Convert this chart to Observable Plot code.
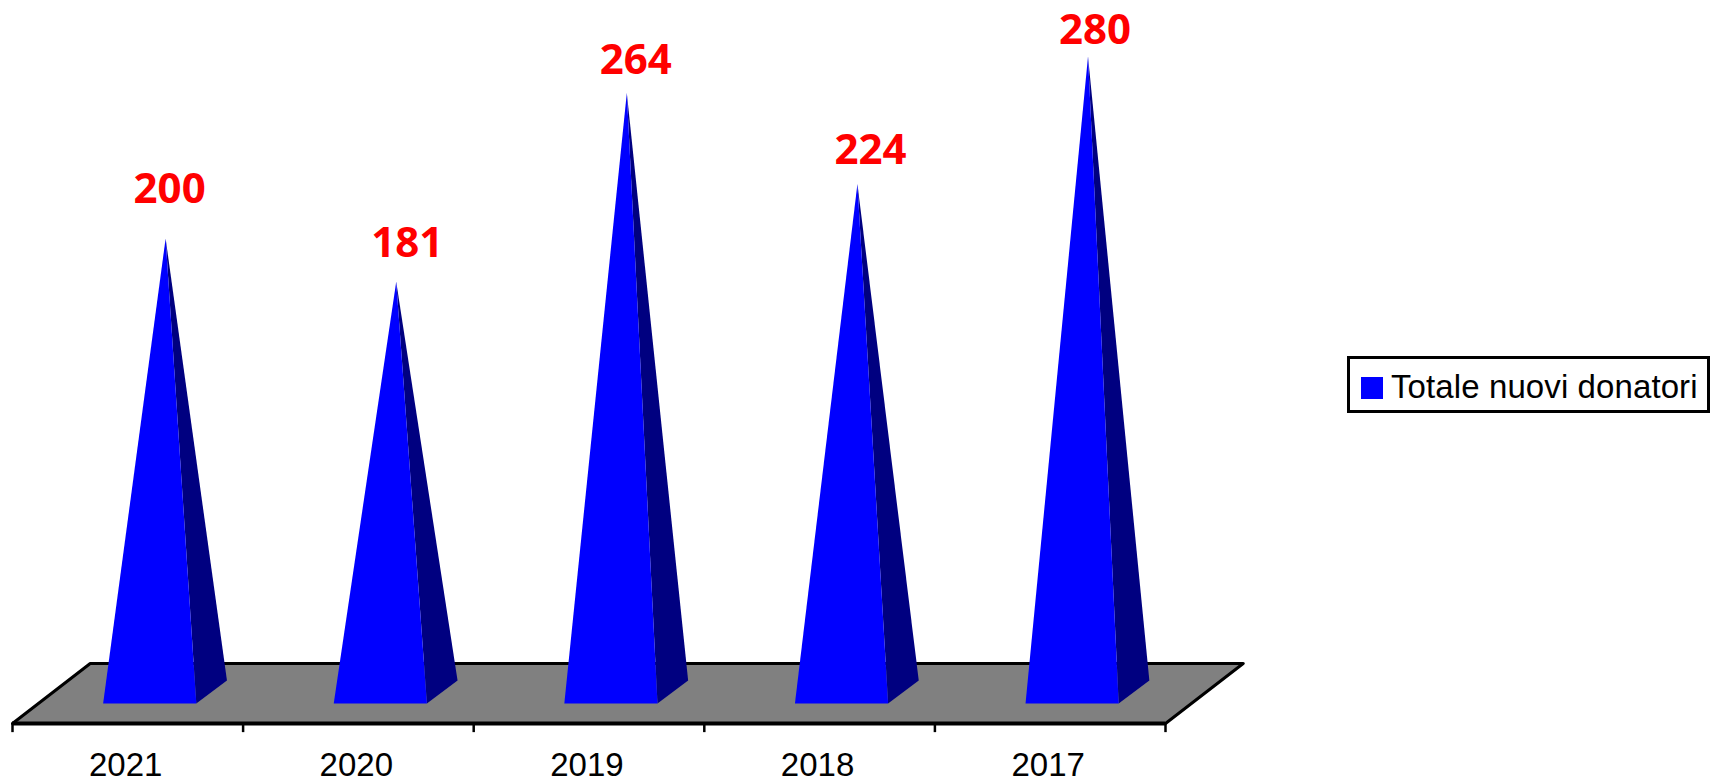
<!DOCTYPE html>
<html>
<head>
<meta charset="utf-8">
<script src="https://cdn.jsdelivr.net/npm/d3@7"></script>
<script src="https://cdn.jsdelivr.net/npm/@observablehq/plot@0.6"></script>
<style>
html,body{margin:0;padding:0;background:#fff;overflow:hidden}
#wrap{position:relative;width:1719px;height:782px}
#wrap svg{display:block;position:absolute;left:0;top:0}
#legend{position:absolute;left:1347px;top:356px;width:357px;height:51px;border:3px solid #000;background:#fff;box-sizing:content-box;
  font-family:"Liberation Sans",Arial,sans-serif;font-size:33px;color:#000;line-height:52px;white-space:nowrap}
#legend i{position:absolute;left:11px;top:18px;width:22px;height:22px;background:#0000ff}
#legend span{position:absolute;left:41px;top:2px;letter-spacing:0.1px}
</style>
</head>
<body>
<div id="wrap"><div id="legend"><i></i><span>Totale nuovi donatori</span></div></div>
<script>
const years = ["2021", "2020", "2019", "2018", "2017"];
const donors = [200, 181, 264, 224, 280];
const seriesName = "Totale nuovi donatori";
const labelDx = [4, 11, 9, 13, 7];
const labelDy = [-49, -38, -32, -33, -26];

const rows = years.map((year, i) => ({year, i, value: donors[i]}));

// Floor and pyramid geometry, in scale units.
const floorFront = -13.2, floorBack = 13.2, floorShift = 0.337;
const baseL = 0.393, baseR = 0.797, baseY = -4.4, apexX = 0.664, depthX = 0.133, depthY = 5.7;

const front = rows.flatMap(d => [
  {k: d.year, x: d.i + baseL, y: baseY},
  {k: d.year, x: d.i + baseR, y: baseY},
  {k: d.year, x: d.i + apexX, y: d.value}
]);
const side = rows.flatMap(d => [
  {k: d.year, x: d.i + baseR, y: baseY},
  {k: d.year, x: d.i + baseR + depthX, y: depthY},
  {k: d.year, x: d.i + apexX, y: d.value}
]);
const floor = [
  {x: 0, y: floorFront},
  {x: years.length, y: floorFront},
  {x: years.length + floorShift, y: floorBack},
  {x: floorShift, y: floorBack},
  {x: 0, y: floorFront}
];
const ticks = d3.range(years.length + 1);
const valueLabel = (d, i) => Plot.text([d], {
  x: d.i + apexX, y: d.value, text: [String(d.value)], dx: labelDx[i], dy: labelDy[i],
  fontFamily: "'Open Sans',sans-serif", fontWeight: 700, fontSize: 42, fill: "#ff0000"
});

const chart = Plot.plot({
  width: 1719,
  height: 782,
  margin: 0,
  style: {background: "transparent", overflow: "visible"},
  x: {domain: [0, 5], range: [12, 1165], axis: null},
  y: {domain: [0, 300], range: [693, 10.5], axis: null},
  marks: [
    Plot.line(floor, {x: "x", y: "y", fill: "#808080", stroke: "#000", strokeWidth: 3, strokeLinejoin: "round"}),
    Plot.ruleY([floorFront], {x1: 0, x2: years.length, stroke: "#000", strokeWidth: 4}),
    Plot.ruleX(ticks, {x: d => d, y1: floorFront, y2: floorFront - 4, stroke: "#000", strokeWidth: 2.5}),
    Plot.line(side, {x: "x", y: "y", z: "k", fill: "#000080", stroke: "none"}),
    Plot.line(front, {x: "x", y: "y", z: "k", fill: "#0000ff", stroke: "none"}),
    Plot.text(rows, {x: d => d.i + 0.491, y: floorFront, text: "year", dy: 42, fontFamily: "'Liberation Sans',Arial,sans-serif", fontSize: 33, fill: "#000"}),
    ...rows.map(valueLabel)
  ]
});
document.getElementById("wrap").prepend(chart);
</script>
</body>
</html>
